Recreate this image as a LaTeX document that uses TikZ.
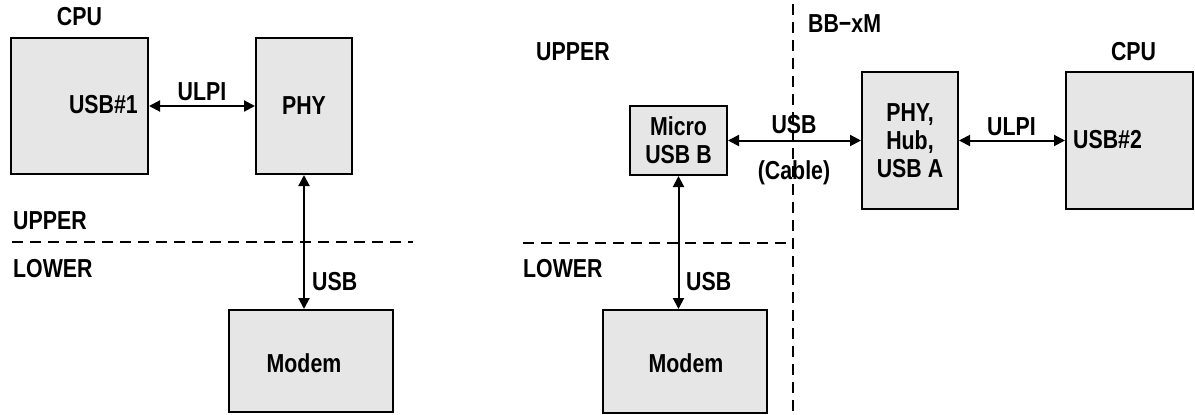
\documentclass[tikz,border=0pt]{standalone}
\usepackage{fontspec}
\setmainfont{Liberation Sans}[FakeStretch=0.82]
\usetikzlibrary{arrows.meta}
\definecolor{boxgray}{HTML}{E6E6E6}
\tikzset{
  blk/.style={draw=black, line width=2pt, fill=boxgray, inner sep=0pt, align=center},
  lbl/.style={inner sep=0pt},
  link/.style={line width=2pt, {Triangle[length=11pt,width=11pt]}-{Triangle[length=11pt,width=11pt]}},
  divider/.style={line width=1.7pt, dash pattern=on 11pt off 7pt},
  every node/.style={font=\fontsize{26}{28}\selectfont\bfseries}
}
\begin{document}
\begin{tikzpicture}[x=1pt,y=-1pt]
\useasboundingbox (0,0) rectangle (1195,415);

% ---------- left configuration ----------
\node[blk, minimum width=137pt, minimum height=136pt] (cpuL) at (79.5,106) {};
\node[blk, minimum width=96pt, minimum height=136pt] (phyL) at (304,106) {PHY};
\node[blk, minimum width=164pt, minimum height=102pt] (modemL) at (311,361) {};
\node[lbl, anchor=base] (modemLtxt) at (304,372) {Modem};
\node[lbl, anchor=base] (cpuLname) at (79.5,25) {CPU};
\node[lbl, anchor=base east] (usb1) at (138,113) {USB\#1};
\node[lbl, anchor=base] (ulpiL) at (202,100) {ULPI};
\node[lbl, anchor=base west] (upperL) at (13,229) {UPPER};
\node[lbl, anchor=base west] (lowerL) at (13,277) {LOWER};
\node[lbl, anchor=base west] (usbL) at (312,290) {USB};

\coordinate (dlA) at (12,242);
\coordinate (dlB) at (413,242);
\draw[divider] (dlA) -- (dlB);

\draw[link] (cpuL.east) -- (phyL.west);
\draw[link] (phyL.south) -- (phyL.south |- modemL.north);

% ---------- right configuration ----------
\node[blk, minimum width=97pt, minimum height=69pt] (micro) at (678.5,140.5) {Micro\\USB B};
\node[blk, minimum width=96pt, minimum height=137pt] (hub) at (910,140.5) {PHY,\\Hub,\\USB A};
\node[blk, minimum width=127pt, minimum height=137pt] (cpuR) at (1129.5,140.5) {};
\node[blk, minimum width=164pt, minimum height=103pt] (modemR) at (685,361.5) {};
\node[lbl, anchor=base] (modemRtxt) at (686,372) {Modem};
\node[lbl, anchor=base] (cpuRname) at (1133.5,60) {CPU};
\node[lbl, anchor=base west] (usb2) at (1073,148) {USB\#2};
\node[lbl, anchor=base west] (ulpiR) at (987,135) {ULPI};
\node[lbl, anchor=base] (usbcab) at (794,133) {USB};
\node[lbl, anchor=base] (cable) at (794,179) {(Cable)};
\node[lbl, anchor=base west] (bbxm) at (808,32) {BB−xM};
\node[lbl, anchor=base west] (upperR) at (536,60) {UPPER};
\node[lbl, anchor=base west] (lowerR) at (523,277) {LOWER};
\node[lbl, anchor=base west] (usbR) at (686,290) {USB};

\coordinate (vdTop) at (793,4);
\coordinate (vdBot) at (793,415);
\coordinate (hdA) at (523,243);
\coordinate (hdB) at (793,243);
\draw[divider] (vdTop) -- (vdBot);
\draw[divider] (hdA) -- (hdB);

\draw[link] (micro.east) -- (hub.west);
\draw[link] (hub.east) -- (cpuR.west);
\draw[link] (micro.south) -- (micro.south |- modemR.north);
\end{tikzpicture}
\end{document}
